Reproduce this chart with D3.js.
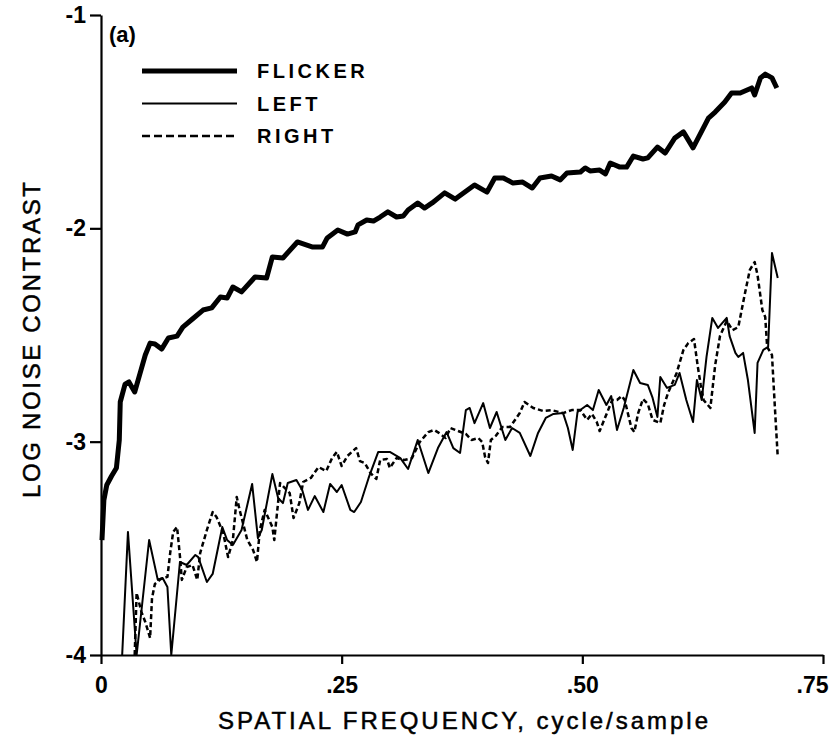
<!DOCTYPE html>
<html>
<head>
<meta charset="utf-8">
<script src="https://cdn.jsdelivr.net/npm/d3@7"></script>
<style>
  body { margin: 0; background: #fff; }
  svg { display: block; }
  text { font-family: "Liberation Sans", Arial, sans-serif; fill: #000; }
</style>
</head>
<body>
<div id="chart"></div>
<script>
// curves: [spatial frequency, log noise contrast]
const flicker = [
  [0.001,-3.461],[0.003,-3.273],[0.006,-3.203],[0.011,-3.161],[0.016,-3.123],[0.019,-2.992],
  [0.020,-2.814],[0.025,-2.730],[0.029,-2.720],[0.035,-2.767],[0.041,-2.673],[0.046,-2.594],
  [0.051,-2.538],[0.056,-2.542],[0.063,-2.566],[0.070,-2.514],[0.079,-2.505],[0.085,-2.463],
  [0.095,-2.425],[0.106,-2.383],[0.115,-2.373],[0.124,-2.322],[0.131,-2.327],[0.137,-2.275],
  [0.146,-2.298],[0.160,-2.228],[0.172,-2.233],[0.178,-2.134],[0.189,-2.139],[0.204,-2.064],
  [0.220,-2.088],[0.230,-2.088],[0.235,-2.045],[0.246,-2.008],[0.256,-2.027],[0.264,-2.017],
  [0.267,-1.984],[0.276,-1.961],[0.283,-1.966],[0.290,-1.947],[0.298,-1.923],[0.307,-1.947],
  [0.314,-1.942],[0.319,-1.914],[0.329,-1.881],[0.336,-1.905],[0.344,-1.881],[0.357,-1.834],
  [0.368,-1.863],[0.378,-1.830],[0.388,-1.797],[0.401,-1.830],[0.409,-1.764],[0.418,-1.764],
  [0.428,-1.788],[0.438,-1.783],[0.448,-1.811],[0.456,-1.764],[0.468,-1.755],[0.477,-1.773],
  [0.484,-1.741],[0.498,-1.736],[0.503,-1.717],[0.508,-1.731],[0.518,-1.727],[0.524,-1.745],
  [0.529,-1.694],[0.539,-1.713],[0.546,-1.713],[0.553,-1.661],[0.563,-1.675],[0.568,-1.670],
  [0.578,-1.619],[0.586,-1.647],[0.596,-1.577],[0.605,-1.548],[0.615,-1.623],[0.631,-1.483],
  [0.638,-1.455],[0.648,-1.408],[0.655,-1.366],[0.664,-1.366],[0.676,-1.342],[0.679,-1.375],
  [0.685,-1.295],[0.690,-1.277],[0.697,-1.295],[0.702,-1.342]
];

const left = [
  [0.022,-4],[0.028,-3.423],[0.037,-4],[0.050,-3.461],[0.059,-3.648],[0.064,-3.639],
  [0.069,-3.681],[0.073,-4],[0.082,-3.564],[0.089,-3.578],[0.098,-3.531],[0.101,-3.541],
  [0.110,-3.658],[0.116,-3.620],[0.126,-3.400],[0.131,-3.461],[0.137,-3.484],[0.146,-3.414],
  [0.157,-3.198],[0.163,-3.452],[0.167,-3.414],[0.178,-3.152],[0.184,-3.264],[0.189,-3.288],
  [0.194,-3.194],[0.203,-3.180],[0.209,-3.227],[0.215,-3.320],[0.222,-3.255],[0.231,-3.330],
  [0.238,-3.198],[0.245,-3.236],[0.250,-3.203],[0.259,-3.320],[0.263,-3.330],[0.270,-3.283],
  [0.278,-3.170],[0.288,-3.048],[0.300,-3.048],[0.311,-3.077],[0.319,-3.128],[0.329,-2.992],
  [0.340,-3.147],[0.350,-3.030],[0.359,-2.955],[0.366,-3.030],[0.373,-3.053],[0.379,-2.852],
  [0.383,-2.842],[0.388,-2.913],[0.397,-2.819],[0.404,-2.936],[0.411,-2.861],[0.420,-2.992],
  [0.427,-2.936],[0.435,-2.959],[0.446,-3.067],[0.454,-2.959],[0.462,-2.889],[0.470,-2.870],
  [0.480,-2.866],[0.485,-2.936],[0.490,-3.039],[0.495,-2.861],[0.505,-2.828],[0.511,-2.852],
  [0.517,-2.758],[0.525,-2.828],[0.530,-2.786],[0.536,-2.945],[0.543,-2.842],[0.553,-2.664],
  [0.560,-2.725],[0.568,-2.734],[0.573,-2.795],[0.578,-2.884],[0.581,-2.697],[0.588,-2.748],
  [0.596,-2.734],[0.601,-2.678],[0.608,-2.805],[0.615,-2.908],[0.619,-2.711],[0.624,-2.805],
  [0.629,-2.603],[0.635,-2.420],[0.641,-2.467],[0.650,-2.420],[0.653,-2.505],[0.659,-2.584],
  [0.662,-2.603],[0.667,-2.584],[0.672,-2.711],[0.679,-2.959],[0.682,-2.631],[0.688,-2.570],
  [0.693,-2.556],[0.697,-2.116],[0.703,-2.233]
];

const right = [
  [0.035,-4],[0.037,-3.709],[0.042,-3.798],[0.046,-3.845],[0.051,-3.920],[0.053,-3.733],
  [0.056,-3.667],[0.062,-3.644],[0.069,-3.634],[0.072,-3.517],[0.075,-3.423],[0.079,-3.400],
  [0.082,-3.536],[0.084,-3.648],[0.089,-3.588],[0.095,-3.578],[0.100,-3.648],[0.103,-3.522],
  [0.110,-3.414],[0.116,-3.330],[0.120,-3.353],[0.127,-3.428],[0.132,-3.541],[0.137,-3.461],
  [0.141,-3.259],[0.144,-3.320],[0.152,-3.461],[0.158,-3.508],[0.162,-3.564],[0.165,-3.414],
  [0.170,-3.320],[0.178,-3.400],[0.180,-3.461],[0.186,-3.194],[0.196,-3.241],[0.200,-3.358],
  [0.206,-3.288],[0.210,-3.189],[0.218,-3.170],[0.226,-3.119],[0.234,-3.138],[0.240,-3.077],
  [0.245,-3.048],[0.250,-3.114],[0.256,-3.067],[0.265,-3.030],[0.269,-3.091],[0.274,-3.100],
  [0.280,-3.147],[0.286,-3.175],[0.290,-3.086],[0.297,-3.081],[0.300,-3.123],[0.307,-3.077],
  [0.315,-3.086],[0.323,-3.077],[0.331,-3.002],[0.340,-2.955],[0.346,-2.945],[0.351,-2.959],
  [0.358,-2.983],[0.363,-2.936],[0.371,-2.950],[0.379,-2.964],[0.385,-2.992],[0.392,-2.983],
  [0.396,-3.002],[0.399,-3.072],[0.402,-3.100],[0.405,-2.992],[0.410,-2.973],[0.417,-2.931],
  [0.425,-2.931],[0.435,-2.866],[0.440,-2.814],[0.449,-2.842],[0.459,-2.856],[0.468,-2.852],
  [0.480,-2.866],[0.489,-2.852],[0.498,-2.852],[0.505,-2.898],[0.510,-2.870],[0.515,-2.908],
  [0.518,-2.950],[0.526,-2.861],[0.531,-2.805],[0.536,-2.805],[0.541,-2.786],[0.544,-2.805],
  [0.551,-2.936],[0.554,-2.955],[0.558,-2.866],[0.563,-2.800],[0.568,-2.823],[0.573,-2.898],
  [0.581,-2.913],[0.585,-2.828],[0.589,-2.772],[0.598,-2.678],[0.605,-2.570],[0.610,-2.538],
  [0.616,-2.519],[0.620,-2.650],[0.623,-2.734],[0.626,-2.805],[0.633,-2.842],[0.638,-2.641],
  [0.643,-2.505],[0.650,-2.434],[0.656,-2.477],[0.662,-2.463],[0.669,-2.303],[0.674,-2.195],
  [0.679,-2.158],[0.682,-2.219],[0.687,-2.383],[0.690,-2.416],[0.692,-2.556],[0.697,-2.594],
  [0.700,-2.838],[0.703,-3.072]
];

const seriesNames = ["FLICKER", "LEFT", "RIGHT"];
const xTicks = [0, 0.25, 0.5, 0.75];
const xTickLabels = ["0", ".25", ".50", ".75"];
const yTicks = [-1, -2, -3, -4];
const yTickLabels = ["-1", "-2", "-3", "-4"];

const width = 835, height = 740;

const svg = d3.select("#chart").append("svg")
  .attr("width", width)
  .attr("height", height);

const x = d3.scaleLinear().domain([0, 0.75]).range([101, 823]);
const y = d3.scaleLinear().domain([-4, -1]).range([655, 15]);

// line styles per series
const styles = [
  { width: 5, dash: null },
  { width: 2, dash: null },
  { width: 2.5, dash: "5,3" }
];

const line = d3.line().x(d => x(d[0])).y(d => y(d[1]));

// y axis
const yAxis = svg.append("g")
  .attr("transform", `translate(${x(0)},0)`)
  .call(d3.axisLeft(y).tickValues(yTicks).tickSize(11).tickSizeOuter(0)
    .tickFormat((d, i) => yTickLabels[i]));
yAxis.select(".domain").attr("stroke-width", 2.2);
yAxis.selectAll(".tick line").attr("stroke-width", 2.2);
yAxis.selectAll(".tick text")
  .attr("x", -15)
  .attr("font-size", 23)
  .attr("font-weight", "bold")
  .attr("font-family", "Liberation Sans, Arial, sans-serif");

// x axis
const xAxis = svg.append("g")
  .attr("transform", `translate(0,${y(-4)})`)
  .call(d3.axisBottom(x).tickValues(xTicks).tickSize(9).tickSizeOuter(0)
    .tickFormat((d, i) => xTickLabels[i]));
xAxis.select(".domain").attr("stroke-width", 2.2);
xAxis.selectAll(".tick line").attr("stroke-width", 2.2);
xAxis.selectAll(".tick text")
  .attr("y", 22)
  .attr("dx", (d, i) => i === xTicks.length - 1 ? -11 : 0)
  .attr("font-size", 23)
  .attr("font-weight", "bold")
  .attr("font-family", "Liberation Sans, Arial, sans-serif");

// curves
const plot = svg.append("g");
[flicker, left, right].forEach((data, i) => {
  plot.append("path")
    .datum(data)
    .attr("fill", "none")
    .attr("stroke", "#000")
    .attr("stroke-width", styles[i].width)
    .attr("stroke-linejoin", "round")
    .attr("stroke-dasharray", styles[i].dash)
    .attr("d", line);
});

// axis titles
svg.append("text")
  .attr("x", 463)
  .attr("y", 729)
  .attr("text-anchor", "middle")
  .attr("font-size", 24)
  .attr("stroke", "#000")
  .attr("stroke-width", 0.5)
  .attr("textLength", 490)
  .attr("lengthAdjust", "spacing")
  .text("SPATIAL FREQUENCY, cycle/sample");

svg.append("text")
  .attr("transform", "translate(40,340) rotate(-90)")
  .attr("text-anchor", "middle")
  .attr("font-size", 24)
  .attr("stroke", "#000")
  .attr("stroke-width", 0.5)
  .attr("textLength", 316)
  .attr("lengthAdjust", "spacing")
  .text("LOG NOISE CONTRAST");

// panel label and legend
svg.append("text")
  .attr("x", 109)
  .attr("y", 42)
  .attr("font-size", 22)
  .attr("font-weight", "bold")
  .text("(a)");

const legend = svg.append("g").attr("transform", "translate(142,71)");
seriesNames.forEach((name, i) => {
  legend.append("line")
    .attr("x1", 0).attr("x2", 95)
    .attr("y1", i * 32.5).attr("y2", i * 32.5)
    .attr("stroke", "#000")
    .attr("stroke-width", styles[i].width)
    .attr("stroke-dasharray", i === 2 ? "8,4" : null);
  legend.append("text")
    .attr("x", 115)
    .attr("y", i * 32.5 + 7)
    .attr("font-size", 20)
    .attr("font-weight", "bold")
    .attr("letter-spacing", 3.5)
    .text(name);
});
</script>
</body>
</html>
